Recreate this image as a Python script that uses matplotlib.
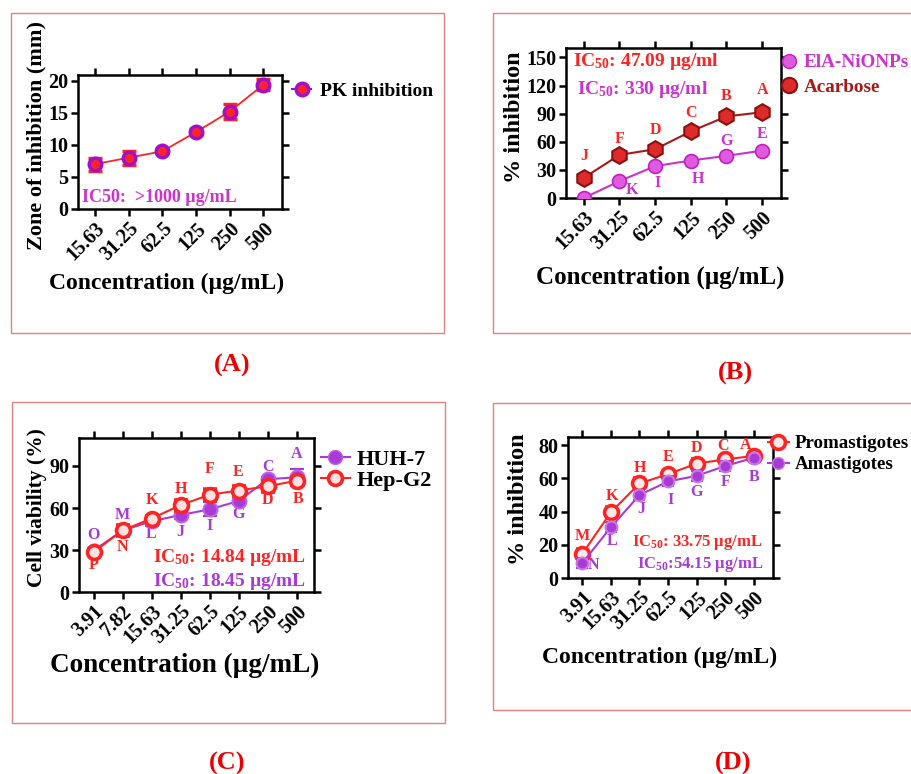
import matplotlib
matplotlib.use('Agg')
import matplotlib.pyplot as plt
from matplotlib.lines import Line2D
from matplotlib.patches import Rectangle

plt.rcParams['font.family'] = ['Liberation Serif', 'DejaVu Serif']
plt.rcParams['font.weight'] = 'bold'
plt.rcParams['axes.labelweight'] = 'bold'
plt.rcParams['mathtext.fontset'] = 'custom'
plt.rcParams['mathtext.rm'] = 'Liberation Serif:bold'
plt.rcParams['mathtext.it'] = 'Liberation Serif:bold'
plt.rcParams['mathtext.bf'] = 'Liberation Serif:bold'
plt.rcParams['mathtext.default'] = 'rm'

# ---- data ----
conc_a = ['15.63', '31.25', '62.5', '125', '250', '500']
pk_zone = [7.0, 8.0, 9.0, 12.0, 15.2, 19.4]
pk_err = [1.0, 1.1, 0.3, 0.4, 1.1, 0.9]

conc_b = ['15.63', '31.25', '62.5', '125', '250', '500']
acarbose = [21.5, 46.0, 52.0, 71.0, 87.0, 91.5]
nionps = [0.0, 18.0, 34.0, 40.0, 45.0, 50.5]
letters_acarbose = ['J', 'F', 'D', 'C', 'B', 'A']
letters_nionps = ['', 'K', 'I', 'H', 'G', 'E']

conc_c = ['3.91', '7.82', '15.63', '31.25', '62.5', '125', '250', '500']
huh7 = [29.5, 44.0, 50.5, 55.0, 59.0, 65.0, 80.5, 82.0]
huh7_err = [1.5, 4.0, 3.0, 3.0, 5.0, 2.0, 2.0, 6.0]
hepg2 = [28.5, 44.0, 52.5, 62.0, 69.5, 72.5, 75.5, 79.5]
hepg2_err = [2.0, 4.0, 2.0, 4.0, 4.0, 3.0, 4.0, 3.0]
letters_huh7 = ['O', 'M', 'L', 'J', 'I', 'G', 'C', 'A']
letters_hepg2 = ['P', 'N', 'K', 'H', 'F', 'E', 'D', 'B']

conc_d = ['3.91', '15.63', '31.25', '62.5', '125', '250', '500']
promast = [14.6, 39.6, 57.0, 62.6, 69.0, 71.5, 73.6]
promast_err = [3.0, 3.0, 3.0, 2.0, 3.0, 2.0, 2.0]
amast = [9.0, 30.6, 50.0, 58.2, 61.6, 67.5, 72.5]
amast_err = [3.0, 3.0, 3.0, 3.0, 3.0, 3.0, 2.0]
letters_prom = ['M', 'K', 'H', 'E', 'D', 'C', 'A']
letters_amast = ['N', 'L', 'J', 'I', 'G', 'F', 'B']

# ---- colours ----
RED = '#ff2424'
DARKRED = '#a81818'
MAG = '#cc33cc'
PURP = '#a83ad6'
BOX = '#e08282'

W, H = 912, 774
fig = plt.figure(figsize=(W / 100, H / 100), dpi=100)


def fx(px):
    return px / W


def fy(py):
    return 1 - py / H


def add_ax(x0, y0, x1, y1):
    return fig.add_axes([fx(x0), fy(y1), (x1 - x0) / W, (y1 - y0) / H])


def style(ax, labels, ylim, yticks, right_pad=0.55):
    n = len(labels)
    ax.set_xlim(-0.5, n - 1 + right_pad)
    ax.set_ylim(*ylim)
    ax.set_yticks(yticks)
    ax.set_xticks(range(n))
    ax.set_xticklabels(labels, rotation=45, ha='right', rotation_mode='anchor')
    ax.tick_params(direction='out', top=True, right=True, length=5, width=1.8,
                   labelsize=14.5, pad=2)
    for s in ax.spines.values():
        s.set_linewidth(1.8)


def letters(ax, ys, labs, offs, color):
    for i, (y, lab, off) in enumerate(zip(ys, labs, offs)):
        if lab:
            ax.annotate(lab, (i, y), xytext=off, textcoords='offset points',
                        ha='center', va='center', color=color, fontsize=11.5)


# panel frames
for x0, y0, x1, y1 in [(11, 13, 444, 333), (493, 13, 916, 333),
                       (12, 402, 445, 723), (493, 403, 916, 710)]:
    fig.add_artist(Rectangle((fx(x0), fy(y1)), (x1 - x0) / W, (y1 - y0) / H,
                             transform=fig.transFigure, fill=False, ec=BOX, lw=1.0))

# ---- (A) ----
ax = add_ax(78, 75, 282, 209)
x = range(len(conc_a))
ax.errorbar(x, pk_zone, yerr=pk_err, color=RED, lw=1.3, elinewidth=1.8, capsize=5,
            capthick=1.8, marker='o', ms=9, mfc=RED, mec='#a010c8', mew=2.5, zorder=3)
style(ax, conc_a, (0, 20.9), [0, 5, 10, 15, 20])
ax.text(fx(82), fy(197), 'IC50:  >1000 µg/mL', transform=fig.transFigure,
        color=MAG, fontsize=13, va='center')
h = [Line2D([], [], color='#a010c8', lw=1.5, marker='o', ms=9, mfc=RED, mec='#a010c8', mew=2.5)]
ax.legend(h, ['PK inhibition'], loc='upper left', bbox_to_anchor=(fx(292), fy(82)),
          bbox_transform=fig.transFigure, frameon=False, borderpad=0, borderaxespad=0,
          handlelength=1.0, handletextpad=0.45, fontsize=14)
fig.text(fx(36), fy(136), 'Zone of inhibition (mm)', rotation=90, ha='center', va='center', fontsize=16)
fig.text(fx(167), fy(283), 'Concentration (µg/mL)', ha='center', va='center', fontsize=17)

# ---- (B) ----
ax = add_ax(566, 48, 781, 198)
x = range(len(conc_b))
ax.plot(x, acarbose, color=DARKRED, lw=1.5, marker='h', ms=12, mfc='#dd2a2a', mec='#8c1010', mew=1.5, zorder=3)
ax.plot(x, nionps, color=MAG, lw=1.5, marker='o', ms=10, mfc='#e05ae0', mec='#c020c0', mew=1.2, zorder=3)
style(ax, conc_b, (0, 160), [0, 30, 60, 90, 120, 150], right_pad=0.53)
letters(ax, acarbose, letters_acarbose, [(0, 16), (0, 11.5), (0, 14), (0, 13), (0, 15), (0, 16)], RED)
letters(ax, nionps, letters_nionps, [(0, 0), (9, -6.5), (2, -12), (5, -13), (0, 11), (0, 12)], MAG)
fig.text(fx(573), fy(62), 'IC$_{50}$: 47.09 µg/ml', color=RED, fontsize=14, va='center')
fig.text(fx(577), fy(89), 'IC$_{50}$: 330 µg/ml', color=MAG, fontsize=14, va='center')
h = [Line2D([], [], ls='none', marker='o', ms=10, mfc='#e05ae0', mec='#c020c0'),
     Line2D([], [], ls='none', marker='o', ms=11, mfc='#dd2a2a', mec='#8c1010', mew=1.5)]
leg = ax.legend(h, ['ElA-NiONPs', 'Acarbose'], loc='upper left', bbox_to_anchor=(fx(779), fy(54)),
                bbox_transform=fig.transFigure, frameon=False, borderpad=0, borderaxespad=0,
                handlelength=1.0, handletextpad=0.3, labelspacing=0.38, fontsize=13.8)
leg.get_texts()[0].set_color(MAG)
leg.get_texts()[1].set_color(DARKRED)
fig.text(fx(514), fy(117), '% inhibition', rotation=90, ha='center', va='center', fontsize=17.5)
fig.text(fx(660), fy(277), 'Concentration (µg/mL)', ha='center', va='center', fontsize=18)

# ---- (C) ----
ax = add_ax(79, 438, 314, 592)
x = range(len(conc_c))
ax.errorbar(x, huh7, yerr=huh7_err, color=PURP, lw=1.5, elinewidth=1.8, capsize=5, capthick=1.8,
            marker='o', ms=10, mfc=PURP, mec='#c060e0', mew=1.5, zorder=3)
ax.errorbar(x, hepg2, yerr=hepg2_err, color=RED, lw=1.5, elinewidth=1.8, capsize=5, capthick=1.8,
            marker='o', ms=10, mfc='#fbe2e2', mec=RED, mew=2.6, zorder=4)
style(ax, conc_c, (0, 110), [0, 30, 60, 90], right_pad=0.6)
letters(ax, huh7, letters_huh7, [(0, 11.5), (0, 11), (0, -9.5), (0, -12), (0, -12), (0, -9.5), (0, 9), (0, 16.5)], PURP)
letters(ax, hepg2, letters_hepg2, [(0, -9), (0, -12), (0, 13.5), (0, 12), (0, 18.5), (0, 13), (0, -10), (1, -13.5)], RED)
fig.text(fx(306), fy(557), 'IC$_{50}$: 14.84 µg/mL', color=RED, fontsize=14, ha='right', va='center')
fig.text(fx(306), fy(582), 'IC$_{50}$: 18.45 µg/mL', color=PURP, fontsize=14, ha='right', va='center')
h = [Line2D([], [], color=PURP, lw=1.5, marker='o', ms=10, mfc=PURP, mec='#c060e0'),
     Line2D([], [], color=RED, lw=1.5, marker='o', ms=10, mfc='#fbe2e2', mec=RED, mew=2.6)]
ax.legend(h, ['HUH-7', 'Hep-G2'], loc='upper left', bbox_to_anchor=(fx(321), fy(449)),
          bbox_transform=fig.transFigure, frameon=False, borderpad=0, borderaxespad=0,
          handlelength=1.3, handletextpad=0.3, labelspacing=0.05, fontsize=16)
fig.text(fx(37), fy(508), 'Cell viability (%)', rotation=90, ha='center', va='center', fontsize=15.5)
fig.text(fx(185), fy(665), 'Concentration (µg/mL)', ha='center', va='center', fontsize=19.5)

# ---- (D) ----
ax = add_ax(568, 437, 773, 578)
x = range(len(conc_d))
ax.errorbar(x, promast, yerr=promast_err, color=RED, lw=1.5, elinewidth=1.8, capsize=4, capthick=1.8,
            marker='o', ms=10, mfc='#fde8e8', mec=RED, mew=2.6, zorder=3)
ax.errorbar(x, amast, yerr=amast_err, color=PURP, lw=1.5, elinewidth=1.8, capsize=4, capthick=1.8,
            marker='o', ms=8.5, mfc=PURP, mec='#c878e8', mew=1.5, zorder=4)
style(ax, conc_d, (0, 85), [0, 20, 40, 60, 80], right_pad=0.67)
letters(ax, promast, letters_prom, [(0, 13), (1, 12), (0, 11), (0, 12), (0, 11), (-1.5, 10), (-6, 8)], RED)
letters(ax, amast, letters_amast, [(8, -1.5), (1, -10), (1.5, -10), (2, -13), (0, -12), (0, -11.5), (0, -14)], PURP)
fig.text(fx(763), fy(542), 'IC$_{50}$: 33.75 µg/mL', color=RED, fontsize=12, ha='right', va='center')
fig.text(fx(763), fy(565), 'IC$_{50}$:54.15 µg/mL', color=PURP, fontsize=12, ha='right', va='center')
h = [Line2D([], [], color=RED, lw=1.5, marker='o', ms=10, mfc='#fde8e8', mec=RED, mew=2.6),
     Line2D([], [], color=PURP, lw=1.5, marker='o', ms=8.5, mfc=PURP, mec='#c878e8')]
ax.legend(h, ['Promastigotes', 'Amastigotes'], loc='upper left', bbox_to_anchor=(fx(768), fy(435)),
          bbox_transform=fig.transFigure, frameon=False, borderpad=0, borderaxespad=0,
          handlelength=1.1, handletextpad=0.3, labelspacing=0.2, fontsize=13.6)
fig.text(fx(518), fy(499), '% inhibition', rotation=90, ha='center', va='center', fontsize=17.5)
fig.text(fx(660), fy(657), 'Concentration (µg/mL)', ha='center', va='center', fontsize=17)

# panel labels
for lab, px, py in [('(A)', 232, 365), ('(B)', 735, 373), ('(C)', 227, 763), ('(D)', 733, 763)]:
    fig.text(fx(px), fy(py), lab, ha='center', va='center', color='#ee0000', fontsize=19)

fig.savefig('out.png', dpi=100)
